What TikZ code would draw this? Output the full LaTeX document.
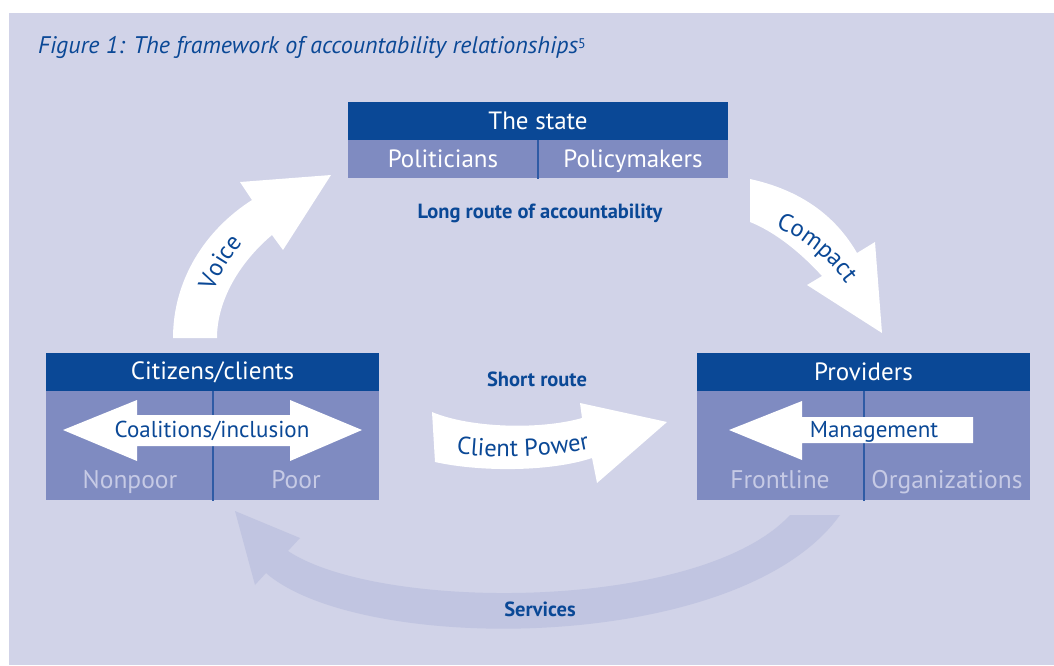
\documentclass[tikz,border=0pt]{standalone}
\usepackage{fontspec}
\setmainfont{PT Sans}
\usetikzlibrary{decorations.text}
\definecolor{wbblue}{HTML}{0A4896}
\definecolor{wbmid}{HTML}{7F8BC1}
\definecolor{wbback}{HTML}{D1D3E8}
\definecolor{wbpale}{HTML}{C6CAE5}
\definecolor{wbarc}{HTML}{C1C5E1}
\definecolor{wbline}{HTML}{2F5BA5}

\begin{document}
\begin{tikzpicture}
        [x=1pt, y=-1pt,
         headbox/.style={fill=wbblue, text=white, inner sep=0pt, minimum height=38pt, font=\fontsize{25}{28}\selectfont},
         subbox/.style={fill=wbmid, text=white, inner sep=0pt, text height=17pt, text depth=0pt, font=\fontsize{25}{28}\selectfont},
         paletext/.style={text=wbpale, anchor=base, inner sep=0pt, font=\fontsize{25.5}{28}\selectfont},
         bluetext/.style={text=wbblue, anchor=base, inner sep=0pt, font=\fontsize{23}{26}\selectfont},
         routetext/.style={text=wbblue, anchor=base, inner sep=0pt, font=\bfseries\fontsize{20.5}{24}\selectfont},
         divider/.style={draw=wbline, line width=2pt},
         curvetext/.style={decorate, decoration={text along path, text align=center, text color=wbblue, text={|\fontsize{24.5}{28}\selectfont|#1}}}]

        \useasboundingbox (0,0) rectangle (1054,665);
        \fill[wbback] (9,13) rectangle (1054,665);

        \node[anchor=base west, inner sep=0pt, text=wbblue, font=\itshape\fontsize{24}{28}\selectfont] (title) at (38,53) {Figure 1: The framework of accountability relationships{\upshape\fontsize{14}{14}\selectfont\raisebox{5pt}{5}}};

        \fill[wbarc] (790,515) .. controls (700,612) and (380,612) .. (288,551) -- (300,538) -- (235,511) -- (255,585) -- (266,573) .. controls (360,655) and (740,655) .. (840,515) -- cycle;

        \node[headbox, minimum width=380pt] (state) at (538,121) {The state};
        \node[subbox, minimum width=190pt, minimum height=38pt, anchor=north west] (pol) at (state.south west) {Politicians};
        \node[subbox, minimum width=190pt, minimum height=38pt, anchor=north east] (polm) at (state.south east) {Policymakers};
        \draw[divider] (pol.north east) -- (pol.south east);

        \node[headbox, minimum width=333pt] (cit) at (212.5,372) {Citizens/clients};
        \node[subbox, minimum width=166.5pt, minimum height=109pt, anchor=north west] (nonpoorbox) at (cit.south west) {};
        \node[subbox, minimum width=166.5pt, minimum height=109pt, anchor=north east] (poorbox) at (cit.south east) {};
        \draw[divider] (nonpoorbox.north east) -- (nonpoorbox.south east);

        \node[headbox, minimum width=333pt] (prov) at (863.5,372) {Providers};
        \node[subbox, minimum width=166.5pt, minimum height=109pt, anchor=north west] (frontbox) at (prov.south west) {};
        \node[subbox, minimum width=166.5pt, minimum height=109pt, anchor=north east] (orgbox) at (prov.south east) {};
        \draw[divider] (frontbox.north east) -- (frontbox.south east);

        \node[paletext] (nonpoor) at (130,488) {Nonpoor};
        \node[paletext] (poor) at (296,488) {Poor};
        \node[paletext] (front) at (780,488) {Frontline};
        \node[paletext] (org) at (947,488) {Organizations};

        \fill[white] (63,430) -- (137,400) -- (137,415) -- (290,415) -- (290,400) -- (362,430) -- (290,461) -- (290,446) -- (137,446) -- (137,461) -- cycle;
        \node[bluetext] (coal) at (212,437) {Coalitions/inclusion};

        \fill[white] (729,430) -- (802,401) -- (802,417) -- (973,417) -- (973,443) -- (802,443) -- (802,460) -- cycle;
        \node[bluetext] (mgmt) at (874,437) {Management};

        \fill[white] (173,338) .. controls (173,280) and (205,230) .. (252,200) -- (240,182) -- (331,175) -- (283,250) -- (272,235) .. controls (240,262) and (217,300) .. (217,338) -- cycle;
        \path[curvetext=Voice] (210,302) .. controls (216,280) and (228,258) .. (250,234);

        \fill[white] (750,179) .. controls (800,190) and (835,215) .. (857,253) -- (875,242) -- (882,333) -- (807,285) -- (822,276) .. controls (800,252) and (775,232) .. (750,222) -- cycle;
        \path[curvetext=Compact] (766,224) .. controls (798,234) and (828,256) .. (852,292);

        \fill[white] (432,412) .. controls (470,428) and (540,430) .. (582,418) -- (580,403) -- (667,422) -- (597,483) -- (592,458) .. controls (550,472) and (480,472) .. (435,462) -- cycle;
        \path[curvetext=Client Power] (444,452) .. controls (490,459) and (555,459) .. (602,446);

        \node[routetext] (long) at (540,218) {Long route of accountability};
        \node[routetext] (short) at (537,386) {Short route};
        \node[routetext] (serv) at (540,616) {Services};

      \end{tikzpicture}
\end{document}
